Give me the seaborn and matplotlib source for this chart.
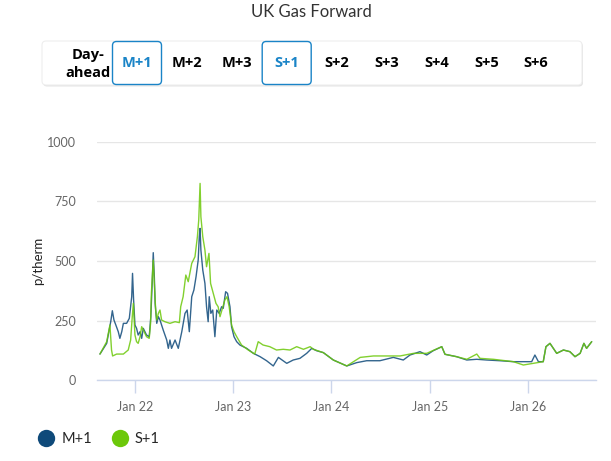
"""UK Gas Forward: M+1 vs S+1 price history (p/therm)."""

import matplotlib.dates as mdates
import matplotlib.pyplot as plt
import pandas as pd
import seaborn as sns
from matplotlib.lines import Line2D
from matplotlib.patches import FancyBboxPatch

# ---- data ----
m1_dates = [
    "2021-08-24", "2021-09-18", "2021-10-03", "2021-10-09", "2021-10-15", "2021-10-22",
    "2021-10-31", "2021-11-06", "2021-11-13", "2021-11-19", "2021-12-01", "2021-12-11",
    "2021-12-20", "2021-12-23", "2021-12-27", "2022-01-01", "2022-01-07", "2022-01-13",
    "2022-01-20", "2022-01-26", "2022-02-01", "2022-02-13", "2022-02-23", "2022-03-01",
    "2022-03-06", "2022-03-10", "2022-03-14", "2022-03-17", "2022-03-23", "2022-03-29",
    "2022-04-04", "2022-04-16", "2022-04-29", "2022-05-05", "2022-05-11", "2022-05-17",
    "2022-05-30", "2022-06-11", "2022-06-24", "2022-07-06", "2022-07-14", "2022-07-22",
    "2022-07-31", "2022-08-08", "2022-08-16", "2022-08-24", "2022-08-28", "2022-08-31",
    "2022-09-03", "2022-09-10", "2022-09-18", "2022-09-24", "2022-09-30", "2022-10-04",
    "2022-10-10", "2022-10-17", "2022-10-25", "2022-11-01", "2022-11-10", "2022-11-19",
    "2022-11-25", "2022-12-04", "2022-12-11", "2022-12-20", "2022-12-26", "2023-01-04",
    "2023-01-14", "2023-01-26", "2023-02-20", "2023-03-17", "2023-04-11", "2023-05-05",
    "2023-05-30", "2023-06-18", "2023-07-19", "2023-08-12", "2023-09-06", "2023-10-01",
    "2023-10-20", "2023-11-07", "2023-12-02", "2024-01-08", "2024-02-27", "2024-04-04",
    "2024-05-11", "2024-06-29", "2024-08-18", "2024-09-24", "2024-10-19", "2024-11-25",
    "2024-12-20", "2025-01-13", "2025-02-14", "2025-02-26", "2025-04-10", "2025-05-18",
    "2025-06-24", "2025-07-31", "2025-09-18", "2025-11-07", "2025-12-27", "2026-01-14",
    "2026-01-26", "2026-02-08", "2026-02-26", "2026-03-08", "2026-03-23", "2026-04-17",
    "2026-05-12", "2026-06-05", "2026-06-24", "2026-07-13", "2026-07-27", "2026-08-06",
    "2026-08-25",
]
m1_values = [
    109, 154, 245, 291, 252, 231, 203, 175, 203, 238, 238, 259,
    350, 448, 336, 231, 217, 189, 203, 175, 217, 189, 182, 266,
    406, 535, 434, 322, 238, 266, 252, 210, 168, 133, 168, 133,
    168, 133, 203, 280, 294, 203, 350, 378, 434, 504, 602, 637,
    546, 462, 406, 308, 245, 350, 280, 294, 182, 294, 280, 308,
    301, 371, 364, 308, 224, 182, 161, 147, 133, 112, 98, 81,
    59, 95, 70, 84, 91, 112, 133, 123, 115, 84, 59, 73,
    81, 81, 95, 84, 105, 119, 105, 123, 140, 108, 98, 84,
    87, 84, 81, 77, 77, 77, 105, 77, 77, 140, 154, 112,
    126, 119, 98, 112, 154, 133, 161,
]

s1_dates = [
    "2021-08-24", "2021-09-18", "2021-09-30", "2021-10-06", "2021-10-10", "2021-10-25",
    "2021-11-19", "2021-12-07", "2021-12-16", "2021-12-22", "2021-12-26", "2022-01-01",
    "2022-01-07", "2022-01-13", "2022-01-20", "2022-01-26", "2022-02-01", "2022-02-13",
    "2022-02-23", "2022-02-28", "2022-03-03", "2022-03-10", "2022-03-14", "2022-03-19",
    "2022-03-23", "2022-03-29", "2022-04-04", "2022-04-10", "2022-04-22", "2022-05-11",
    "2022-05-30", "2022-06-15", "2022-06-20", "2022-06-29", "2022-07-09", "2022-07-18",
    "2022-07-31", "2022-08-12", "2022-08-21", "2022-08-26", "2022-08-31", "2022-09-03",
    "2022-09-10", "2022-09-18", "2022-09-24", "2022-10-03", "2022-10-09", "2022-10-19",
    "2022-10-29", "2022-11-06", "2022-11-13", "2022-11-22", "2022-12-01", "2022-12-09",
    "2022-12-17", "2022-12-26", "2023-01-04", "2023-01-14", "2023-02-01", "2023-02-26",
    "2023-03-22", "2023-04-04", "2023-04-22", "2023-05-17", "2023-06-11", "2023-07-06",
    "2023-07-31", "2023-08-25", "2023-09-19", "2023-10-14", "2023-10-26", "2023-12-02",
    "2024-01-08", "2024-02-27", "2024-04-17", "2024-06-05", "2024-08-06", "2024-09-12",
    "2024-11-01", "2024-12-20", "2025-02-14", "2025-02-26", "2025-04-10", "2025-05-18",
    "2025-06-24", "2025-07-06", "2025-08-25", "2025-11-07", "2025-12-14", "2026-01-20",
    "2026-02-26", "2026-03-08", "2026-03-23", "2026-04-17", "2026-05-12", "2026-06-05",
    "2026-06-24", "2026-07-13", "2026-07-27", "2026-08-06", "2026-08-25",
]
s1_values = [
    109, 161, 231, 126, 101, 109, 109, 126, 168, 266, 322, 189,
    161, 154, 182, 224, 210, 182, 175, 238, 364, 504, 406, 294,
    252, 280, 294, 252, 245, 238, 245, 241, 308, 350, 441, 413,
    490, 518, 602, 672, 826, 686, 602, 546, 476, 532, 406, 364,
    322, 308, 266, 301, 336, 350, 308, 231, 203, 182, 147, 126,
    109, 161, 147, 140, 126, 129, 126, 140, 129, 140, 129, 115,
    84, 59, 95, 101, 101, 101, 112, 112, 140, 108, 98, 87,
    109, 91, 87, 77, 63, 70, 77, 140, 154, 112, 126, 119,
    98, 112, 154, 133, 161,
]

buttons = ["M+1", "M+2", "M+3", "S+1", "S+2", "S+3", "S+4", "S+5", "S+6"]
selected = ["M+1", "S+1"]
year_ticks = ["2022-01-01", "2023-01-01", "2024-01-01", "2025-01-01", "2026-01-01"]

BLUE = "#0f4a7a"
GREEN = "#6cc80a"
ACCENT = "#1a84c7"

df = pd.concat([
    pd.DataFrame({"date": pd.to_datetime(m1_dates), "price": m1_values, "series": "M+1"}),
    pd.DataFrame({"date": pd.to_datetime(s1_dates), "price": s1_values, "series": "S+1"}),
])

sns.set_style("white")
plt.rcParams["font.family"] = ["Lato", "DejaVu Sans"]

fig = plt.figure(figsize=(6.11, 4.61), dpi=100)
ax = fig.add_axes([97 / 611, 1 - 380 / 461, 499 / 611, 238 / 461])

sns.lineplot(data=df, x="date", y="price", hue="series",
             palette={"M+1": BLUE, "S+1": GREEN}, estimator=None,
             linewidth=1.0, alpha=0.85, legend=False, ax=ax)

ax.set_xlim(pd.Timestamp("2021-08-13"), pd.Timestamp("2026-09-10"))
ax.set_ylim(0, 1000)
ax.set_yticks([0, 250, 500, 750, 1000])
ax.set_xticks(pd.to_datetime(year_ticks))
ax.xaxis.set_major_formatter(mdates.DateFormatter("%b %y"))
ax.grid(True, axis="y", color="#e6e6e6", linewidth=1)
ax.set_axisbelow(True)
for side in ["top", "right", "left"]:
    ax.spines[side].set_visible(False)
ax.spines["bottom"].set_color("#ccd6eb")
ax.spines["bottom"].set_linewidth(1)
ax.tick_params(axis="x", colors="#ccd6eb", length=9, width=1, labelcolor="#666666",
               labelsize=9, pad=6, bottom=True)
ax.tick_params(axis="y", length=0, labelcolor="#666666", labelsize=9, pad=15)
ax.set_xlabel("")
ax.set_ylabel("p/therm", fontsize=9.5, color="#222222", labelpad=2)

fig.text(311 / 611, 1 - 12 / 461, "UK Gas Forward", ha="center", va="center",
         fontsize=12, color="#333333")

# button bar, drawn in pixel coordinates on an overlay
ov = fig.add_axes([0, 0, 1, 1], zorder=-1)
ov.set_xlim(0, 611)
ov.set_ylim(461, 0)
ov.axis("off")
ov.add_patch(FancyBboxPatch((43, 42.5), 540, 44, boxstyle="round,pad=0,rounding_size=4",
                            facecolor="#d8d8d8", edgecolor="none", alpha=0.7))
ov.add_patch(FancyBboxPatch((42, 41), 540, 44, boxstyle="round,pad=0,rounding_size=4",
                            facecolor="white", edgecolor="#eeeeee", linewidth=0.8))
btn_font = ["Open Sans", "DejaVu Sans"]
ov.text(88, 64, "Day-\nahead", ha="center", va="center", fontsize=10.5,
        fontweight="bold", color="black", linespacing=1.45, family=btn_font)
for i, name in enumerate(buttons):
    cx = 137 + i * 49.9
    if name in selected:
        ov.add_patch(FancyBboxPatch((cx - 24.5, 41.5), 49, 43,
                                    boxstyle="round,pad=0,rounding_size=4",
                                    facecolor="white", edgecolor=ACCENT, linewidth=1))
        color = ACCENT
    else:
        color = "black"
    ov.text(cx, 63, name, ha="center", va="center", fontsize=10.5,
            fontweight="bold", color=color, family=btn_font)

handles = [Line2D([], [], marker="o", linestyle="", markersize=12.5,
                  markerfacecolor=c, markeredgecolor="none") for c in (BLUE, GREEN)]
fig.legend(handles, ["M+1", "S+1"], loc="center left",
           bbox_to_anchor=(24 / 611, 1 - 439 / 461), ncol=2, frameon=False,
           fontsize=10.5, handletextpad=0.45, columnspacing=1.3, handlelength=1.2)

fig.savefig("out.png", dpi=100)
